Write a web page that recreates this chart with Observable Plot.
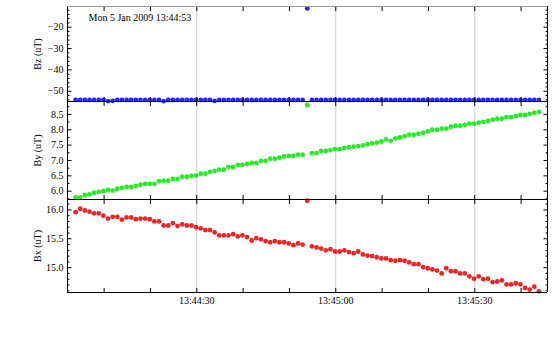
<!DOCTYPE html>
<html><head><meta charset="utf-8">
<script src="https://cdn.jsdelivr.net/npm/d3@7"></script>
<script src="https://cdn.jsdelivr.net/npm/@observablehq/plot@0.6"></script>
<style>
body{margin:0;background:#fff;}
#chart{position:relative;width:560px;height:340px;font-family:"Liberation Serif",serif;}
#chart svg{position:absolute;left:0;overflow:visible;}
</style></head><body><div id="chart"></div>
<script>
const title = "Mon 5 Jan 2009 13:44:53";
const startTime = "2009-01-05T13:44:03.85Z"; // first sample
const sampleStepMs = 1000;                    // 1 sample per second
const xDomain = ["2009-01-05T13:44:02.1Z", "2009-01-05T13:45:45.7Z"];
const xTickTimes = ["13:44:10","13:44:20","13:44:30","13:44:40","13:44:50","13:45:00","13:45:10","13:45:20","13:45:30","13:45:40"];
const xLabelTimes = ["13:44:30","13:45:00","13:45:30"];

const bz = [
-54.0,-54.0,-54.0,-54.0,-54.0,-54.0,-54.0,-54.6,-54.5,-54.0,
-54.0,-54.0,-54.0,-54.0,-54.0,-54.0,-54.0,-54.0,-54.0,-54.6,
-54.0,-54.0,-54.0,-54.0,-54.0,-54.0,-54.0,-54.0,-54.0,-54.0,
-54.5,-54.0,-54.0,-54.0,-54.0,-54.0,-54.0,-54.0,-54.0,-54.0,
-54.0,-54.0,-54.0,-54.0,-54.0,-54.0,-54.0,-54.0,-54.0,-54.0,
-11.2,-54.0,-54.0,-54.0,-54.0,-54.0,-54.0,-54.0,-54.0,-54.0,
-54.0,-54.0,-54.0,-54.0,-54.0,-54.0,-54.0,-54.0,-54.0,-54.0,
-54.0,-54.0,-54.0,-54.0,-54.0,-54.0,-54.0,-54.0,-54.0,-54.0,
-54.0,-54.0,-54.0,-54.0,-54.0,-54.0,-54.0,-54.0,-54.0,-54.0,
-54.0,-54.0,-54.0,-54.0,-54.0,-54.0,-54.0,-54.0,-54.0,-54.0,
-54.0];
const by = [
5.80,5.80,5.88,5.90,5.95,5.98,6.01,6.04,6.02,6.08,
6.11,6.14,6.14,6.17,6.21,6.24,6.24,6.24,6.33,6.34,
6.34,6.40,6.40,6.47,6.47,6.50,6.51,6.57,6.57,6.63,
6.66,6.70,6.70,6.79,6.79,6.86,6.86,6.89,6.92,6.92,
6.99,6.99,7.06,7.06,7.09,7.13,7.15,7.15,7.19,7.19,
8.81,7.24,7.24,7.31,7.31,7.34,7.37,7.37,7.41,7.43,
7.45,7.47,7.49,7.53,7.56,7.58,7.62,7.69,7.64,7.72,
7.75,7.79,7.84,7.84,7.87,7.90,7.95,8.00,8.00,8.04,
8.04,8.10,8.13,8.13,8.16,8.20,8.20,8.23,8.26,8.29,
8.33,8.36,8.36,8.41,8.41,8.45,8.48,8.48,8.52,8.55,
8.58];
const bx = [
15.96,16.02,15.99,15.97,15.94,15.94,15.90,15.85,15.88,15.88,
15.83,15.87,15.87,15.84,15.85,15.85,15.84,15.80,15.80,15.73,
15.73,15.77,15.72,15.75,15.73,15.73,15.70,15.68,15.65,15.65,
15.61,15.56,15.56,15.56,15.58,15.54,15.56,15.53,15.47,15.51,
15.49,15.46,15.44,15.46,15.44,15.44,15.42,15.39,15.42,15.40,
16.16,15.37,15.35,15.33,15.30,15.32,15.28,15.28,15.30,15.27,
15.25,15.28,15.23,15.21,15.20,15.18,15.16,15.16,15.13,15.12,
15.13,15.12,15.09,15.06,15.06,15.01,14.99,14.97,14.95,14.90,
14.99,14.94,14.94,14.90,14.90,14.85,14.81,14.85,14.80,14.81,
14.75,14.76,14.78,14.71,14.71,14.73,14.71,14.65,14.62,14.67,
14.59];

const bzMajor = [-50,-40,-30,-20];
const bzMinor = [-54,-52,-48,-46,-44,-42,-38,-36,-34,-32,-28,-26,-24,-22,-18,-16,-14,-12];
const byMajor = [6.0,6.5,7.0,7.5,8.0,8.5];
const byMinor = [5.75,6.25,6.75,7.25,7.75,8.25,8.75];
const bxMajor = [15.0,15.5,16.0];
const bxMinor = [14.6,14.7,14.8,14.9,15.1,15.2,15.3,15.4,15.6,15.7,15.8,15.9,16.1];

const day = "2009-01-05T";
const toDate = s => new Date(day + s + "Z");
const t0 = new Date(startTime);
const times = bz.map((_, i) => new Date(+t0 + i * sampleStepMs));
const xDom = xDomain.map(s => new Date(s));
const xTicks = xTickTimes.map(toDate);
const xLabels = xLabelTimes.map(toDate);
const font = '"Liberation Serif", "Times New Roman", serif';

function panel({values, color, label, domain, major, minor, fmt, top, height, marginTop, marginBottom, showX, topStroke, withTitle}) {
  const data = values.map((v, i) => ({t: times[i], v}));
  const marks = [
    Plot.ruleX(xLabels, {stroke: "#cccccc"}),
    Plot.dot(data, {x: "t", y: "v", r: 2.4, fill: color, stroke: "none"}),
    Plot.ruleX(xDom, {stroke: "black"}),
    Plot.ruleY([domain[0]], {stroke: "black"}),
    Plot.ruleY([domain[1]], {stroke: topStroke}),
    Plot.axisY(major, {anchor: "left", tickSize: -4.5, tickPadding: 8.5, tickFormat: fmt, label: null, fontSize: 10}),
    Plot.axisY(minor, {anchor: "left", tickSize: -2.5, fill: "none", label: null}),
    Plot.axisY(major, {anchor: "right", tickSize: -4.5, fill: "none", label: null}),
    Plot.axisY(minor, {anchor: "right", tickSize: -2.5, fill: "none", label: null}),
    Plot.axisX(xTicks, {anchor: "top", tickSize: -4, fill: "none", label: null}),
    Plot.axisX(xTicks, {anchor: "bottom", tickSize: -4, fill: "none", label: null}),
    Plot.text([label], {frameAnchor: "left", dx: -30, rotate: -90, textAnchor: "middle", lineAnchor: "middle", fontSize: 10, fill: "black"})
  ];
  if (showX) marks.push(Plot.axisX(xLabels, {anchor: "bottom", tickSize: 0, tickPadding: 4, tickFormat: d3.utcFormat("%H:%M:%S"), label: null, fontSize: 10}));
  if (withTitle) marks.push(Plot.text([title], {frameAnchor: "top-left", dx: 21, dy: 11, textAnchor: "start", lineAnchor: "middle", fontSize: 10, fill: "black"}));
  const svg = Plot.plot({
    width: 560, height, marginLeft: 67, marginRight: 13, marginTop, marginBottom,
    style: {fontFamily: font, fontSize: "10px", color: "black", background: "transparent", overflow: "visible"},
    x: {type: "utc", domain: xDom},
    y: {domain},
    marks
  });
  svg.style.top = top + "px";
  return svg;
}

const chart = document.getElementById("chart");
chart.append(
  panel({values: bz, color: "#2424ff", label: "Bz (uT)", domain: [-54.8, -10.3], major: bzMajor, minor: bzMinor, fmt: d3.format("d"), top: 0, height: 101, marginTop: 6, marginBottom: 0, showX: false, topStroke: "#999999", withTitle: true}),
  panel({values: by, color: "#22ee22", label: "By (uT)", domain: [5.73, 8.92], major: byMajor, minor: byMinor, fmt: d3.format(".1f"), top: 101, height: 98, marginTop: 0, marginBottom: 0, showX: false, topStroke: "black"}),
  panel({values: bx, color: "#f02222", label: "Bx (uT)", domain: [14.57, 16.18], major: bxMajor, minor: bxMinor, fmt: d3.format(".1f"), top: 199, height: 141, marginTop: 0, marginBottom: 48, showX: true, topStroke: "black"})
);
</script></body></html>
